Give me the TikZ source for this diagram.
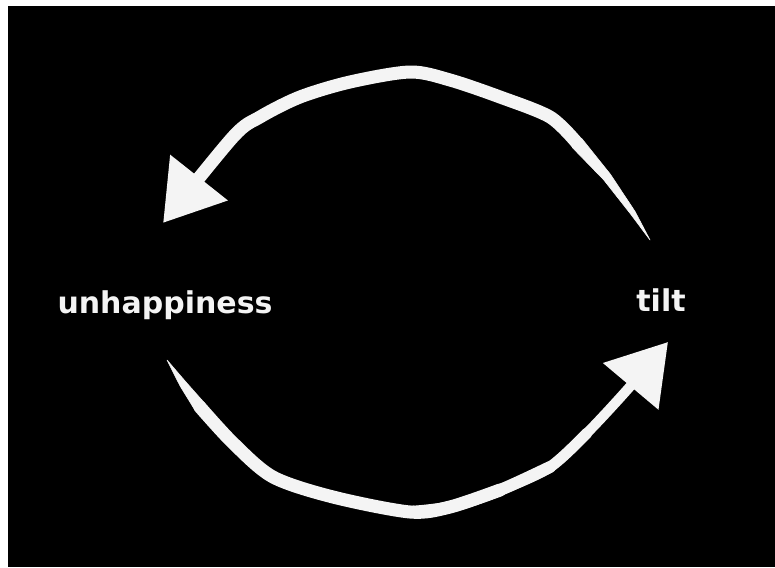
\documentclass[tikz,border=0pt]{standalone}
\usepackage{fontspec}
\setmainfont{DejaVu Sans}
\usepackage{xcolor}
\usetikzlibrary{arrows.meta, positioning, calc}

\definecolor{chalk}{RGB}{244,244,244}

\tikzset{
  chalkline/.style={draw=chalk, line cap=round, line join=round},
  chalktail/.style={fill=chalk, draw=chalk, line width=0.6pt, line join=round},
  chalkhead/.style={-{Triangle[length=58pt, width=70pt, fill=chalk]}},
  word/.style={text=chalk, font=\bfseries\fontsize{30}{36}\selectfont, anchor=base, inner sep=0pt},
}

\begin{document}
\begin{tikzpicture}[x=1pt, y=-1pt]

  % Board
  \useasboundingbox (0,0) rectangle (775,567);
  \fill[black] (8,6) rectangle (775,567);

  % Labels
  \node[word] (unhappy) at (165,313) {unhappiness};
  \node[word] (tilt) at (661,311) {tilt};

  % Ends of the two strokes
  \coordinate (topstart) at ($(tilt.base)+(-11,-71)$);
  \coordinate (topend) at ($(unhappy.base)+(-2,-90)$);
  \coordinate (botstart) at ($(unhappy.base)+(2,47)$);
  \coordinate (botend) at ($(tilt.base)+(7,31)$);

  % Top arrow: tilt back to unhappiness
  \filldraw[chalktail] (topstart) -- (635.1,211.6) -- (610.4,174.3) -- (581.7,138.5)
    -- (572.3,147.5) -- (603.6,179.7) -- (630.9,214.4) -- cycle;
  \draw[chalkline, chalkhead, line width=13pt] plot[smooth] coordinates {(577,143) (550,117) (500,97) (450,80) (410,72) (350,82) (300,97) (260,117) (233,137) (topend)};

  % Bottom arrow: unhappiness on to tilt
  \filldraw[chalktail] (botstart) -- (185.9,382.0) -- (204.6,403.1)
    -- (195.4,410.9) -- (180.1,386.0) -- cycle;
  \draw[chalkline, line width=13pt] plot[smooth] coordinates {(200,407) (233,443) (273,477) (333,497) (410,512) (450,507) (500,490)};
  \draw[chalkline, line width=12pt] plot[smooth] coordinates {(410,512) (450,507) (500,490) (550,467)};
  \draw[chalkline, line width=11pt] plot[smooth] coordinates {(450,507) (500,490) (550,467) (587,433)};
  \draw[chalkline, chalkhead, line width=10pt] plot[smooth] coordinates {(500,490) (550,467) (587,433) (627,390) (botend)};

\end{tikzpicture}
\end{document}
